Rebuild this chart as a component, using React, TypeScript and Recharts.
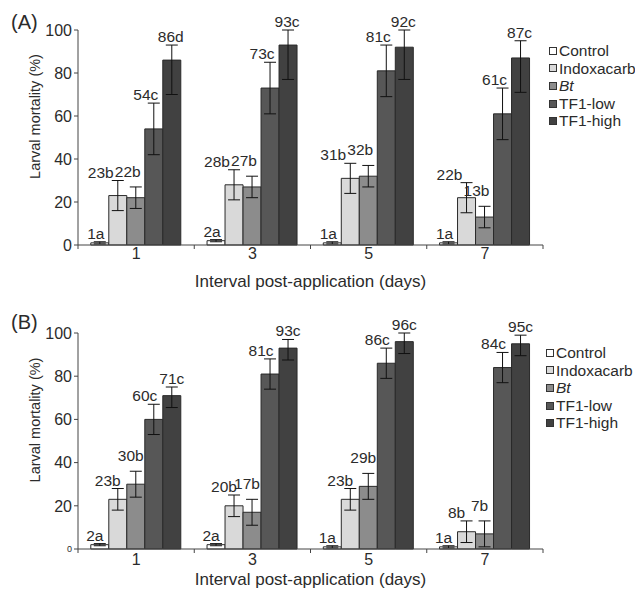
import { Bar, BarChart, ErrorBar, Label, LabelList, Legend, XAxis, YAxis } from "recharts";

const FONT = "'Liberation Sans', Arial, sans-serif";
const TEXT = "#2b2b2b";
const AXIS = "#444";

const DAYS = ["1", "3", "5", "7"];
const SERIES = ["Control", "Indoxacarb", "Bt", "TF1-low", "TF1-high"];
const KEYS = ["control", "indox", "bt", "low", "high"];
const FILLS = ["#ffffff", "#d9d9d9", "#8c8c8c", "#575757", "#414141"];
const Y_TICKS = [0, 20, 40, 60, 80, 100];

// panel (A)
const A_CONTROL = [1, 2, 1, 1];
const A_INDOX = [23, 28, 31, 22];
const A_BT = [22, 27, 32, 13];
const A_LOW = [54, 73, 81, 61];
const A_HIGH = [86, 93, 92, 87];
const A_ERR_CONTROL = [0.5, 0.5, 0.5, 0.5];
const A_ERR_INDOX = [7, 7, 7, 7];
const A_ERR_BT = [5, 5, 5, 5];
const A_ERR_LOW = [12, 12, 12, 12];
const A_ERR_HIGH_DOWN = [16, 16, 15, 16];
const A_ERR_HIGH_UP = [7, 7, 8, 8];
const A_LETTERS_CONTROL = ["a", "a", "a", "a"];
const A_LETTERS_INDOX = ["b", "b", "b", "b"];
const A_LETTERS_BT = ["b", "b", "b", "b"];
const A_LETTERS_LOW = ["c", "c", "c", "c"];
const A_LETTERS_HIGH = ["d", "c", "c", "c"];

// panel (B)
const B_CONTROL = [2, 2, 1, 1];
const B_INDOX = [23, 20, 23, 8];
const B_BT = [30, 17, 29, 7];
const B_LOW = [60, 81, 86, 84];
const B_HIGH = [71, 93, 96, 95];
const B_ERR_CONTROL = [0.5, 0.5, 0.5, 0.5];
const B_ERR_INDOX = [5, 5, 5, 5];
const B_ERR_BT = [6, 6, 6, 6];
const B_ERR_LOW = [7, 7, 7, 7];
const B_ERR_HIGH_DOWN = [5.5, 5.5, 5.5, 5.5];
const B_ERR_HIGH_UP = [4, 4, 4, 4];
const B_LETTERS_CONTROL = ["a", "a", "a", "a"];
const B_LETTERS_INDOX = ["b", "b", "b", "b"];
const B_LETTERS_BT = ["b", "b", "b", "b"];
const B_LETTERS_LOW = ["c", "c", "c", "c"];
const B_LETTERS_HIGH = ["c", "c", "c", "c"];

type Row = Record<string, any>;

function buildRows(values: number[][], down: number[][], up: number[][], letters: string[][]): Row[] {
  return DAYS.map((day, i) => {
    const row: Row = { day };
    KEYS.forEach((k, s) => {
      row[k] = values[s][i];
      row[k + "Err"] = [down[s][i], up[s][i]];
      row[k + "Lbl"] = `${values[s][i]}${letters[s][i]}`;
    });
    return row;
  });
}

const rowsA = buildRows(
  [A_CONTROL, A_INDOX, A_BT, A_LOW, A_HIGH],
  [A_ERR_CONTROL, A_ERR_INDOX, A_ERR_BT, A_ERR_LOW, A_ERR_HIGH_DOWN],
  [A_ERR_CONTROL, A_ERR_INDOX, A_ERR_BT, A_ERR_LOW, A_ERR_HIGH_UP],
  [A_LETTERS_CONTROL, A_LETTERS_INDOX, A_LETTERS_BT, A_LETTERS_LOW, A_LETTERS_HIGH],
);

const rowsB = buildRows(
  [B_CONTROL, B_INDOX, B_BT, B_LOW, B_HIGH],
  [B_ERR_CONTROL, B_ERR_INDOX, B_ERR_BT, B_ERR_LOW, B_ERR_HIGH_DOWN],
  [B_ERR_CONTROL, B_ERR_INDOX, B_ERR_BT, B_ERR_LOW, B_ERR_HIGH_UP],
  [B_LETTERS_CONTROL, B_LETTERS_INDOX, B_LETTERS_BT, B_LETTERS_LOW, B_LETTERS_HIGH],
);

// label sits just above the upper whisker
const barLabel = (rows: Row[], key: string, dx: number, lift: number) => (props: any) => {
  const { x, y, width, height, value, index } = props;
  const v = rows[index][key] as number;
  const up = (rows[index][key + "Err"] as number[])[1];
  const top = Number(y) - (up * Number(height)) / v;
  return (
    <text
      x={Number(x) + Number(width) / 2 + dx}
      y={top - 3 - lift}
      textAnchor="middle"
      fontSize={15.5}
      fontFamily={FONT}
      fill={TEXT}
    >
      {value}
    </text>
  );
};

function YTick(props: any) {
  const { x, y, payload, smallZero } = props;
  const small = smallZero && payload.value === 0;
  return (
    <text x={x} y={y} dy="0.36em" textAnchor="end" fontSize={small ? 9 : 16} fontFamily={FONT} fill={TEXT}>
      {payload.value}
    </text>
  );
}

// category label plus Excel-style tick marks on the category boundaries
function XTick(props: any) {
  const { x, y, payload, index, visibleTicksCount, gap } = props;
  const half = Number(payload.offset) || 58;
  const axisY = Number(y) - gap;
  const last = index === visibleTicksCount - 1;
  return (
    <g>
      <line x1={x - half} x2={x - half} y1={axisY} y2={axisY + 4} stroke={AXIS} />
      {last && <line x1={x + half} x2={x + half} y1={axisY} y2={axisY + 4} stroke={AXIS} />}
      <text x={x} y={y} dy="0.71em" textAnchor="middle" fontSize={16} fontFamily={FONT} fill={TEXT}>
        {payload.value}
      </text>
    </g>
  );
}

function LegendList() {
  return (
    <div style={{ fontFamily: FONT, fontSize: 15.5, color: TEXT, lineHeight: "17.6px", textAlign: "left" }}>
      {SERIES.map((name, s) => (
        <div key={name} style={{ display: "flex", alignItems: "center", whiteSpace: "nowrap" }}>
          <span
            style={{
              display: "inline-block",
              width: 6,
              height: 6,
              border: "1px solid #333",
              background: FILLS[s],
              marginRight: 2,
            }}
          />
          <span style={{ fontStyle: name === "Bt" ? "italic" : "normal" }}>{name}</span>
        </div>
      ))}
    </div>
  );
}

interface PanelProps {
  tag: string;
  rows: Row[];
  top: number;
  height: number;
  plotTop: number;
  axisHeight: number;
  tickMargin: number;
  titleOffset: number;
  labelDx: number[];
  smallZero: boolean;
  legendTop: number;
  legendLeft: number;
  tagTop: number;
}

function Panel(p: PanelProps) {
  return (
    <div style={{ position: "absolute", left: 0, top: p.top, width: 635, height: p.height }}>
      <BarChart
        width={635}
        height={p.height}
        data={p.rows}
        margin={{ top: p.plotTop, right: 92, bottom: 0, left: 28 }}
        barCategoryGap="11%"
        barGap={0}
      >
        <XAxis
          dataKey="day"
          height={p.axisHeight}
          tickLine={false}
          tickSize={0}
          tickMargin={p.tickMargin}
          axisLine={{ stroke: AXIS }}
          tick={<XTick gap={p.tickMargin} />}
        >
          <Label
            value="Interval post-application (days)"
            position="insideBottom"
            offset={p.titleOffset}
            style={{ fontSize: 17, fill: TEXT, fontFamily: FONT }}
          />
        </XAxis>
        <YAxis
          width={50}
          domain={[0, 100]}
          ticks={Y_TICKS}
          interval={0}
          tickSize={4}
          tickMargin={2}
          axisLine={{ stroke: AXIS }}
          tickLine={{ stroke: AXIS }}
          tick={<YTick smallZero={p.smallZero} />}
        >
          <Label
            content={(lp: any) => {
              const vb = lp.viewBox;
              const cx = vb.x + 7;
              const cy = vb.y + vb.height / 2 - 21;
              return (
                <text
                  x={cx}
                  y={cy}
                  transform={`rotate(-90 ${cx} ${cy})`}
                  textAnchor="middle"
                  dominantBaseline="central"
                  fontSize={14.5}
                  fontFamily={FONT}
                  fill={TEXT}
                >
                  Larval mortality (%)
                </text>
              );
            }}
          />
        </YAxis>
        <Legend
          layout="horizontal"
          verticalAlign="middle"
          align="center"
          wrapperStyle={{ left: p.legendLeft, top: p.legendTop, width: 110 }}
          content={() => <LegendList />}
        />
        {KEYS.map((k, s) => (
          <Bar
            key={k}
            dataKey={k}
            name={SERIES[s]}
            fill={FILLS[s]}
            stroke="#2a2a2a"
            strokeWidth={1}
            isAnimationActive={false}
          >
            <ErrorBar dataKey={k + "Err"} direction="y" width={6} stroke="#111" strokeWidth={1} isAnimationActive={false} />
            <LabelList dataKey={k + "Lbl"} content={barLabel(p.rows, k, p.labelDx[s], s === 2 ? 7 : 0)} />
          </Bar>
        ))}
      </BarChart>
      <div
        style={{
          position: "absolute",
          left: 11,
          top: p.tagTop,
          fontFamily: FONT,
          fontSize: 20,
          lineHeight: "20px",
          color: TEXT,
        }}
      >
        {p.tag}
      </div>
    </div>
  );
}

export default function App() {
  return (
    <div style={{ position: "absolute", left: 0, top: 0, width: 635, height: 589, background: "#fff" }}>
      <Panel
        tag="(A)"
        rows={rowsA}
        top={0}
        height={290}
        plotTop={30}
        axisHeight={45}
        tickMargin={3}
        titleOffset={3}
        labelDx={[-4, -17, -8, -8, -1]}
        smallZero={false}
        legendTop={42}
        legendLeft={549}
        tagTop={12}
      />
      <Panel
        tag="(B)"
        rows={rowsB}
        top={290}
        height={299}
        plotTop={43}
        axisHeight={40}
        tickMargin={5}
        titleOffset={4}
        labelDx={[-5, -10, -5, -9, 0]}
        smallZero={true}
        legendTop={54}
        legendLeft={546}
        tagTop={22}
      />
    </div>
  );
}
